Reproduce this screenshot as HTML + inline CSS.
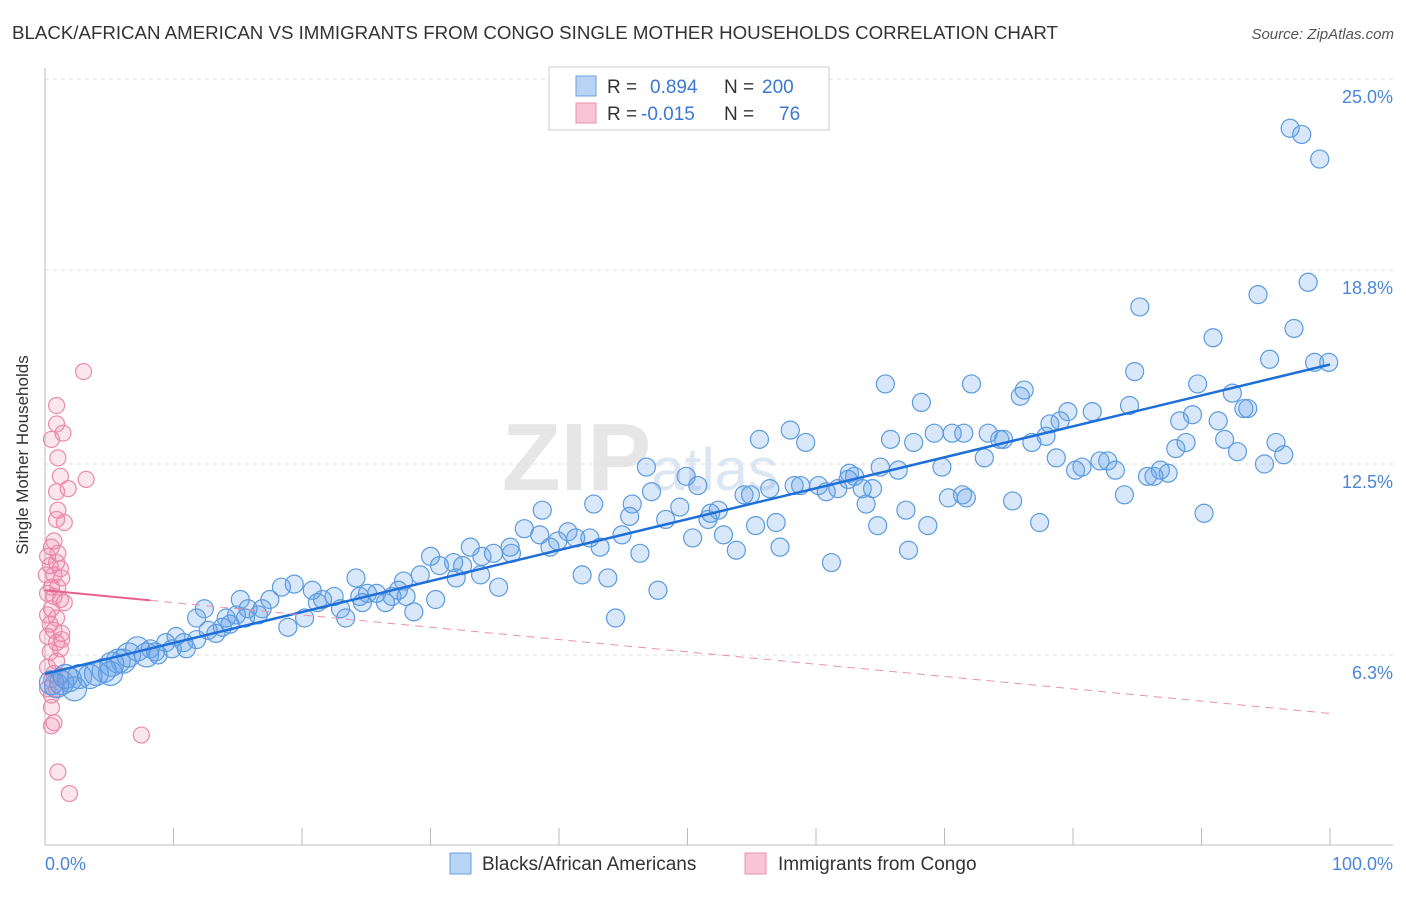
<!DOCTYPE html>
<html><head><meta charset="utf-8"><style>
body{margin:0;background:#fff;font-family:"Liberation Sans",sans-serif;}
svg text{font-family:"Liberation Sans",sans-serif;}
</style></head><body>
<svg id="chart" width="1406" height="892" viewBox="0 0 1406 892">
<text x="12" y="39" font-size="18.7" fill="#333">BLACK/AFRICAN AMERICAN VS IMMIGRANTS FROM CONGO SINGLE MOTHER HOUSEHOLDS CORRELATION CHART</text>
<text x="1394" y="39" font-size="15" fill="#555" font-style="italic" text-anchor="end">Source: ZipAtlas.com</text>
<text x="640" y="490" font-size="96" fill="#e6e6e6" font-family="Liberation Serif" text-anchor="middle" font-weight="bold">ZIP<tspan font-size="60" font-family="Liberation Sans" font-weight="normal" fill="#dce6f2">atlas</tspan></text>
<g id="grid"></g>
<line x1="45" y1="68" x2="45" y2="845" stroke="#bbb"/>
<line x1="45" y1="845" x2="1393" y2="845" stroke="#bbb"/>
<g id="xticks"></g>
<text x="28" y="455" font-size="17" fill="#333" text-anchor="middle" transform="rotate(-90 28 455)">Single Mother Households</text>
<g id="pts"></g>
<g id="lines"></g>
<g>
<rect x="549" y="67" width="280" height="63" fill="#fff" stroke="#ccc"/>
<rect x="576" y="76" width="20" height="20" fill="#b8d3f3" stroke="#6aa0e0"/>
<rect x="576" y="103" width="20" height="20" fill="#f9c5d6" stroke="#e890ae"/>
<text x="607" y="93" font-size="19" fill="#333">R = </text><text x="650" y="93" font-size="19" fill="#3a78d4">0.894</text>
<text x="724" y="93" font-size="19" fill="#333">N = </text><text x="762" y="93" font-size="19" fill="#3a78d4">200</text>
<text x="607" y="120" font-size="19" fill="#333">R = </text><text x="641" y="120" font-size="19" fill="#3a78d4">-0.015</text>
<text x="724" y="120" font-size="19" fill="#333">N = </text><text x="779" y="120" font-size="19" fill="#3a78d4">76</text>
</g>
<text x="45" y="870" font-size="18" fill="#4a86d8">0.0%</text>
<text x="1393" y="870" font-size="18" fill="#4a86d8" text-anchor="end">100.0%</text>
<g>
<rect x="450" y="853" width="21" height="21" fill="#b8d3f3" stroke="#6aa0e0"/>
<text x="482" y="870" font-size="19" fill="#333">Blacks/African Americans</text>
<rect x="745" y="853" width="21" height="21" fill="#f9c5d6" stroke="#e890ae"/>
<text x="778" y="870" font-size="19" fill="#333">Immigrants from Congo</text>
</g>
</svg>
<script>
const yTicks=[25.0,18.8,12.5,6.3];
const yTickLabels=["25.0%","18.8%","12.5%","6.3%"];
const xTicks=[0,10,20,30,40,50,60,70,80,90,100];
const blueX=[96.9,97.8,99.2,98.3,94.4,85.2,97.2,90.9,95.3,98.8,99.9,84.8,72.1,89.7,76.2,75.9,92.4,68.2,84.4,93.3,93.6,79.6,81.5,79.0,89.3,91.3,88.3,78.2,77.9,73.4,71.5,69.2,70.6,74.6,74.3,65.8,67.6,76.8,91.8,88.8,95.8,92.8,88.0,78.7,96.4,94.9,82.1,82.7,80.7,80.2,73.1,69.8,65.0,66.4,62.6,63.0,83.3,85.8,86.8,87.4,86.3,46.8,49.9,58.0,59.2,55.6,65.4,62.5,60.2,61.7,60.8,63.6,64.4,58.3,58.8,56.4,54.4,54.9,50.8,49.4,48.3,45.5,45.7,42.7,47.2,52.4,51.6,51.8,52.8,55.3,56.9,50.4,53.8,57.2,63.9,61.2,67.0,67.2,68.7,64.8,70.3,71.4,71.7,75.3,77.4,84.0,90.2,38.7,37.3,38.5,39.3,39.9,40.7,41.3,42.4,43.2,44.9,46.3,41.8,43.8,47.7,44.4,33.1,34.0,34.9,36.3,36.2,30.0,30.7,31.8,32.5,33.9,32.0,35.3,29.2,27.9,27.5,27.0,25.8,24.2,24.5,25.1,28.1,30.4,28.7,26.5,24.7,23.0,23.4,22.5,21.6,21.2,20.8,19.4,18.4,17.5,16.9,16.6,15.2,14.9,15.6,15.8,14.1,13.8,13.3,14.4,12.4,11.8,18.9,20.2,12.7,11.8,10.8,10.2,9.9,9.4,8.6,8.2,7.2,6.5,6.1,5.7,5.2,4.6,4.0,3.5,2.7,1.9,1.3,0.9,0.5,2.3,1.6,5.1,7.9,8.8,11.0];
const blueY=[23.4,23.2,22.4,18.4,18.0,17.6,16.9,16.6,15.9,15.8,15.8,15.5,15.1,15.1,14.9,14.7,14.8,14.5,14.4,14.3,14.3,14.2,14.2,13.9,14.1,13.9,13.9,13.8,13.4,13.5,13.5,13.5,13.5,13.3,13.3,13.3,13.2,13.2,13.3,13.2,13.2,12.9,13.0,12.7,12.8,12.5,12.6,12.6,12.4,12.3,12.7,12.4,12.4,12.3,12.2,12.1,12.3,12.1,12.3,12.2,12.1,12.4,12.1,13.6,13.2,13.3,15.1,12.0,11.8,11.7,11.6,11.7,11.7,11.8,11.8,11.7,11.5,11.5,11.8,11.1,10.7,10.8,11.2,11.2,11.6,11.0,10.7,10.9,10.2,10.5,10.6,10.1,9.7,9.8,11.2,9.3,11.0,9.7,10.5,10.5,11.4,11.5,11.4,11.3,10.6,11.5,10.9,11.0,10.4,10.2,9.8,10.0,10.3,10.1,10.1,9.8,10.2,9.6,8.9,8.8,8.4,7.5,9.8,9.5,9.6,9.6,9.8,9.5,9.2,9.3,9.2,8.9,8.8,8.5,8.9,8.7,8.4,8.2,8.3,8.8,8.2,8.3,8.2,8.1,7.7,8.0,8.0,7.8,7.5,8.2,8.1,8.0,8.4,8.6,8.5,8.1,7.8,7.6,8.1,7.6,7.5,7.8,7.5,7.2,7.0,7.3,7.8,7.5,7.2,7.5,7.1,6.8,6.7,6.9,6.5,6.7,6.4,6.5,6.5,6.3,6.1,6.1,6.0,5.8,5.7,5.6,5.6,5.5,5.4,5.3,5.4,5.2,5.6,5.7,6.3,6.3,6.5];
const pinkX=[3.0,0.9,0.9,1.4,0.5,1.0,1.2,3.2,0.9,1.8,1.0,0.9,1.5,0.5,1.0,0.9,1.2,0.7,1.3,0.5,0.2,0.7,1.2,1.5,0.5,0.2,0.9,0.4,0.7,1.3,0.2,0.9,1.2,0.4,0.9,0.2,0.7,1.2,0.5,0.9,0.5,0.5,0.7,0.5,7.5,1.0,1.9,0.2,0.4,0.1,1.0,0.7,1.3,0.2];
const pinkY=[15.5,14.4,13.8,13.5,13.3,12.7,12.1,12.0,11.6,11.7,11.0,10.7,10.6,9.8,9.6,9.3,9.1,8.9,8.8,8.5,8.3,8.2,8.1,8.0,7.8,7.6,7.5,7.3,7.1,7.0,6.9,6.7,6.5,6.4,6.1,5.9,5.7,5.6,5.5,5.2,5.0,4.6,4.1,4.0,3.7,2.5,1.8,9.5,9.2,8.9,8.5,10.0,6.8,5.2];
const pinkTrend=[8.4,-0.04];
const NS='http://www.w3.org/2000/svg';
function xs(v){return 45+v*12.85;}
function ys(v){return 849-v*30.8;}
function mk(tag,attrs,parent){const e=document.createElementNS(NS,tag);for(const k in attrs)e.setAttribute(k,attrs[k]);parent.appendChild(e);return e;}
const grid=document.getElementById('grid');
yTicks.forEach((t,i)=>{
  const l=mk('line',{x1:45,x2:1393,y1:ys(t),y2:ys(t),stroke:'#ddd','stroke-dasharray':'4,4'},grid);
  
  
  const tx=mk('text',{x:1393,y:ys(t)+24,'font-size':18,fill:'#4a86d8','text-anchor':'end'},grid);
  tx.textContent=yTickLabels[i];
  
  
});
mk('line',{x1:45,x2:1393,y1:79,y2:79,stroke:'#ddd','stroke-dasharray':'4,4'},grid);
const xt=document.getElementById('xticks');
xTicks.forEach(t=>{
  const l=mk('line',{x1:xs(t),x2:xs(t),y1:828,y2:845,stroke:'#bbb'},xt);
  
  
});
const pts=document.getElementById('pts');
pinkX.forEach((x,i)=>{
  const c=mk('circle',{cx:xs(x),cy:ys(pinkY[i]),r:8,fill:'rgba(240,130,170,0.2)',stroke:'#ea8aab','stroke-width':1.2},pts);
  
  
});
blueX.forEach((x,i)=>{
  const r=x<8?12:9;
  const c=mk('circle',{cx:xs(x),cy:ys(blueY[i]),r:r,fill:'rgba(100,160,230,0.25)',stroke:'#5b9be0','stroke-width':1.2},pts);
  
  
});
function fit(X,Y){const n=X.length;let mx=0,my=0;X.forEach((v,i)=>{mx+=v;my+=Y[i];});mx/=n;my/=n;let sxy=0,sxx=0;X.forEach((v,i)=>{sxy+=(v-mx)*(Y[i]-my);sxx+=(v-mx)*(v-mx);});const b=sxy/sxx;return [my-b*mx,b];}
const lines=document.getElementById('lines');
const bf=fit(blueX,blueY);
const bl=mk('line',{x1:xs(0),y1:ys(bf[0]),x2:xs(100),y2:ys(bf[0]+bf[1]*100),stroke:'#1f6fd8','stroke-width':2.5},lines);


const pf=pinkTrend;
const pmax=Math.max(...pinkX)+0.7;
const pl=mk('line',{x1:xs(0),y1:ys(pf[0]),x2:xs(pmax),y2:ys(pf[0]+pf[1]*pmax),stroke:'#e8608e','stroke-width':2},lines);


const pd=mk('line',{x1:xs(pmax),y1:ys(pf[0]+pf[1]*pmax),x2:xs(100),y2:ys(pf[0]+pf[1]*100),stroke:'#ec8fae','stroke-width':1,'stroke-dasharray':'8,6'},lines);


</script>
</body></html>
